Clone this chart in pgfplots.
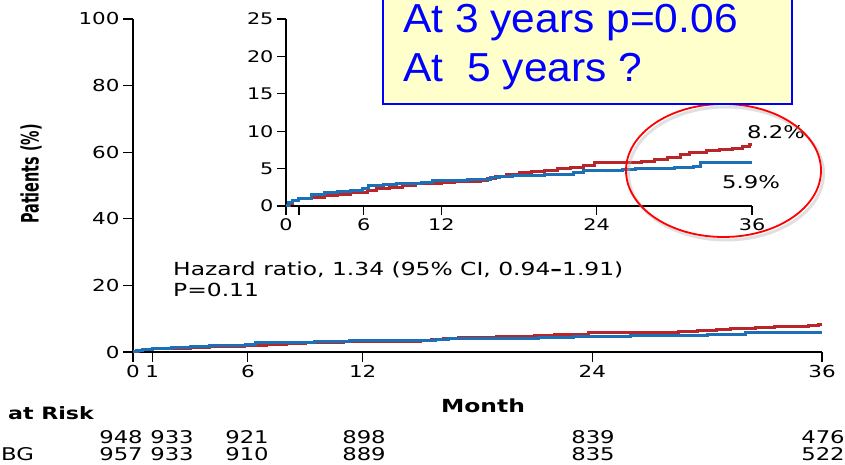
\documentclass[border=0pt]{standalone}
\usepackage{fontspec}
\setmainfont{DejaVu Sans}[FakeStretch=1.3]
\newfontfamily\plainfont{DejaVu Sans}
\newfontfamily\boxfont{Liberation Sans}[FakeStretch=1.05]
\usepackage{graphicx}
\usepackage{pgfplots}
\usepackage{pgfplotstable}
\pgfplotsset{compat=1.18}
\definecolor{kmred}{RGB}{185,38,42}
\definecolor{kmblue}{RGB}{30,112,182}
\definecolor{boxfill}{RGB}{255,255,204}
\definecolor{boxblue}{RGB}{0,0,255}

\pgfplotstableread{
m v
0 0
0.3 0.3
0.5 0.8
1.0 1.0
2.0 1.2
3.0 1.4
4.0 1.6
5.0 1.75
5.8 1.85
6.3 2.1
7.0 2.3
8.0 2.5
9.0 2.75
10.0 2.95
11.0 3.05
12.0 3.15
13.0 3.25
14.0 3.3
15.0 3.4
15.6 3.7
16.2 3.95
17.0 4.25
18.0 4.45
19.0 4.6
20.0 4.8
21.0 5.0
22.0 5.2
23.0 5.4
23.8 5.8
25.0 5.8
26.5 5.8
27.5 5.9
28.5 6.2
29.5 6.5
30.5 6.9
31.2 7.2
32.5 7.4
33.5 7.55
34.5 7.7
35.3 7.9
35.8 8.2
36 8.2
}\redtab

\pgfplotstableread{
m v
0 0
0.2 0.5
0.5 0.8
1.0 1.05
2.0 1.5
3.0 1.8
4.0 2.0
5.0 2.1
5.9 2.4
6.4 2.75
7.5 2.85
8.5 2.95
9.5 3.05
10.5 3.1
11.3 3.4
12.5 3.45
14.0 3.5
15.0 3.6
15.8 3.8
16.5 3.95
17.5 4.05
18.5 4.1
20.0 4.15
21.2 4.25
22.2 4.5
23.0 4.75
24.0 4.8
26.0 4.85
27.0 4.95
28.5 5.05
30.0 5.15
31.5 5.25
32.0 5.85
36 5.85
}\bluetab

\begin{document}
\begin{tikzpicture}[x=1pt,y=1pt]
\clip (0,0) rectangle (845,465);
\path[use as bounding box] (0,0) rectangle (845,465);

% main axis
\begin{axis}[at={(133pt,113pt)}, anchor=south west, scale only axis,
  width=689pt, height=333pt,
  xmin=0, xmax=36, ymin=0, ymax=100,
  axis lines=left, axis line style={-, line width=1.2pt},
  xtick={0,1,6,12,24,36}, ytick={0,20,40,60,80,100},
  tick align=outside, major tick length=10pt,
  tick style={line width=1.2pt, black},
  tick label style={font=\fontsize{16.5}{18}\selectfont},
  /pgf/number format/assume math mode=true,
  clip=false]
\addplot[const plot, kmred, line width=3pt] table {\redtab};
\addplot[const plot, kmblue, line width=3pt] table {\bluetab};
\end{axis}

% inset axis
\begin{axis}[at={(286pt,259pt)}, anchor=south west, scale only axis,
  width=466pt, height=187pt,
  xmin=0, xmax=36, ymin=0, ymax=25,
  axis lines=left, axis line style={-, line width=1.2pt},
  xtick={0,1,6,12,24,36}, xticklabels={0,,6,12,24,36},
  ytick={0,5,10,15,20,25},
  tick align=outside, major tick length=9pt,
  tick style={line width=1.2pt, black},
  tick label style={font=\fontsize{16}{18}\selectfont},
  /pgf/number format/assume math mode=true,
  clip=false]
\addplot[const plot, kmred, line width=3pt] table {\redtab};
\addplot[const plot, kmblue, line width=3pt] table {\bluetab};
\end{axis}

% y label
\node[rotate=90] at (31,291) {\plainfont\bfseries\fontsize{24}{26}\selectfont\scalebox{0.6}[1]{Patients (\%)}};

% hazard text
\node[anchor=base west, inner sep=0pt, font=\fontsize{18}{20}\selectfont] at (173,189) {Hazard ratio, 1.34 (95\% CI, 0.94\textbf{–}1.91)};
\node[anchor=base west, inner sep=0pt, font=\fontsize{18}{20}\selectfont] at (173,168) {P=0.11};

% inset labels
\node[font=\fontsize{17.5}{20}\selectfont] at (776,333) {8.2\%};
\node[font=\fontsize{17.5}{20}\selectfont] at (751,283) {5.9\%};

% ellipse
\draw[black!30, line width=3pt, opacity=0.4] (726,291.5) ellipse [x radius=97.5, y radius=66.5];
\draw[red, line width=1.8pt] (723.5,294.5) ellipse [x radius=97.5, y radius=66.5];

% box
\draw[boxblue, line width=2pt, fill=boxfill] (383,361) rectangle (792,475);
\node[anchor=base west, inner sep=0pt, text=boxblue, font=\boxfont\fontsize{40.5}{48}\selectfont] at (403,432) {At 3 years p=0.06};
\node[anchor=base west, inner sep=0pt, text=boxblue, font=\boxfont\fontsize{40.5}{48}\selectfont] at (403,383) {At\hspace{0.3em} 5 years ?};

% month label and at risk table
\node[font=\bfseries\fontsize{18}{20}\selectfont] at (483,59) {Month};
\node[anchor=base west, inner sep=0pt, font=\bfseries\fontsize{17}{20}\selectfont] at (8,45) {at Risk};
\node[anchor=base west, inner sep=0pt, font=\fontsize{17.5}{20}\selectfont] at (1,4) {BG};
\foreach \xx/\aa/\bb in {121/948/957, 172/933/933, 247/921/910, 364/898/889, 593/839/835, 823/476/522} {
  \node[anchor=base, inner sep=0pt, font=\fontsize{17.5}{20}\selectfont] at (\xx,21) {\aa};
  \node[anchor=base, inner sep=0pt, font=\fontsize{17.5}{20}\selectfont] at (\xx,4) {\bb};
}
\end{tikzpicture}
\end{document}
